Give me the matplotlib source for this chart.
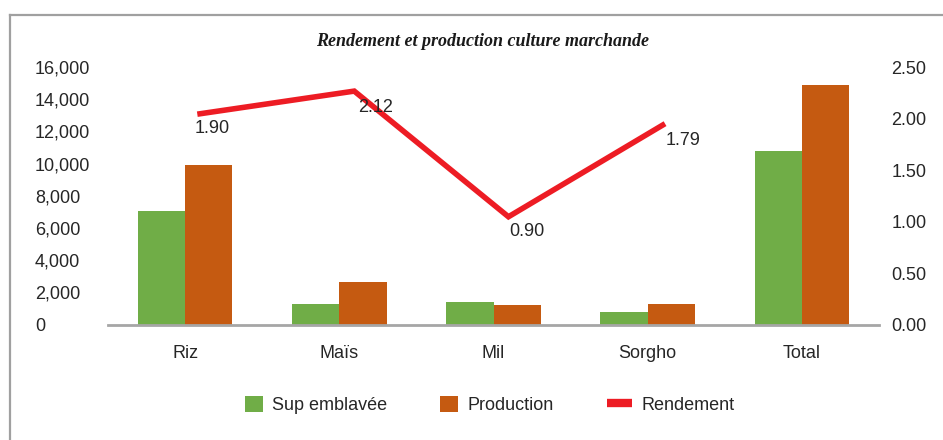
import matplotlib
matplotlib.use("Agg")
import matplotlib.pyplot as plt
import numpy as np
from matplotlib.lines import Line2D
from matplotlib.patches import Patch

categories = ["Riz", "Maïs", "Mil", "Sorgho", "Total"]
sup_emblavee = [7050, 1270, 1400, 780, 10800]
production = [9900, 2640, 1210, 1270, 14900]
rendement = [1.90, 2.12, 0.90, 1.79]
left_ticks = [0, 2000, 4000, 6000, 8000, 10000, 12000, 14000, 16000]
right_ticks = [0.0, 0.5, 1.0, 1.5, 2.0, 2.5]

GREEN = "#70AD47"
ORANGE = "#C55A11"
RED = "#ED1C24"
TXT = "#262626"
FS = 13

W, H = 943, 440
fig = plt.figure(figsize=(W / 100, H / 100), dpi=100)
plt.rcParams["font.family"] = ["Liberation Sans", "DejaVu Sans"]

def fx(px):
    return px / W

def fy(py):
    return 1 - py / H

# frame
fig.add_artist(Line2D([fx(10), fx(10)], [fy(15), fy(445)], color="#A0A0A0", lw=1.6, transform=fig.transFigure))
fig.add_artist(Line2D([fx(10), fx(950)], [fy(15), fy(15)], color="#A0A0A0", lw=1.6, transform=fig.transFigure))

left, right, top, bottom = 108, 879, 67, 324.5
pos = [fx(left), fy(bottom), fx(right - left), (bottom - top) / H]
ax = fig.add_axes(pos)
x = np.arange(len(categories))
w = 0.307
ax.bar(x - w / 2, sup_emblavee, w, color=GREEN, zorder=2)
ax.bar(x + w / 2, production, w, color=ORANGE, zorder=2)
ax.set_xlim(-0.5, 4.5)
ax.set_ylim(0, 16000)
ax.set_yticks(left_ticks)
ax.set_yticklabels([f"{v:,}" for v in left_ticks])
ax.set_xticks(x)
ax.set_xticklabels(categories)
for s in ["top", "left", "right"]:
    ax.spines[s].set_visible(False)
ax.spines["bottom"].set_color("#A6A6A6")
ax.spines["bottom"].set_linewidth(2)
ax.tick_params(axis="y", length=0, pad=52.5, labelsize=FS, labelcolor=TXT)
for lab in ax.get_yticklabels():
    lab.set_horizontalalignment("left")
ax.tick_params(axis="x", length=0, pad=15, labelsize=FS, labelcolor=TXT)

ax2 = ax.twinx()
ax2.set_ylim(0, 2.5)
ax2.set_yticks(right_ticks)
ax2.set_yticklabels([f"{v:.2f}" for v in right_ticks])
ax2.tick_params(axis="y", length=0, pad=9, labelsize=FS, labelcolor=TXT)
for s in ["top", "left", "right", "bottom"]:
    ax2.spines[s].set_visible(False)

# line plotted on its own (slightly offset) plot area, as in the original
ax3 = fig.add_axes(pos, frameon=False)
dx = 0.097
ax3.set_xlim(-0.5 - dx, 4.5 - dx)
ax3.set_ylim(-0.146, 2.5 - 0.146)
ax3.axis("off")
xl = np.arange(len(rendement))
ax3.plot(xl, rendement, color=RED, lw=4, solid_joinstyle="miter", zorder=3)
label_offsets_px = [(12, -15), (21, -16), (18, -15), (20, -15)]
for xi, v, (ox, oy) in zip(xl, rendement, label_offsets_px):
    ax3.annotate(f"{v:.2f}", (xi, v), xytext=(ox * 0.72, oy * 0.72), textcoords="offset points",
                 ha="center", va="center", fontsize=FS, color=TXT)

fig.text(fx(483), fy(41), "Rendement et production culture marchande", ha="center", va="center",
         fontsize=13, fontstyle="italic", fontweight="bold", family=["Liberation Serif", "DejaVu Serif"], color="#1a1a1a")

# legend
def add_leg(handle, label, xpx, hlen):
    lg = fig.legend([handle], [label], loc="center left", bbox_to_anchor=(fx(xpx), fy(405)),
                    frameon=False, fontsize=FS, handlelength=hlen, handleheight=1.0,
                    handletextpad=0.5, borderpad=0, borderaxespad=0, labelcolor=TXT)
    return lg

add_leg(Patch(facecolor=GREEN), "Sup emblavée", 245, 1.0)
add_leg(Patch(facecolor=ORANGE), "Production", 440, 1.0)
add_leg(Line2D([], [], color=RED, lw=6, solid_capstyle="butt"), "Rendement", 607, 1.4)

fig.savefig("out.png", dpi=100)
